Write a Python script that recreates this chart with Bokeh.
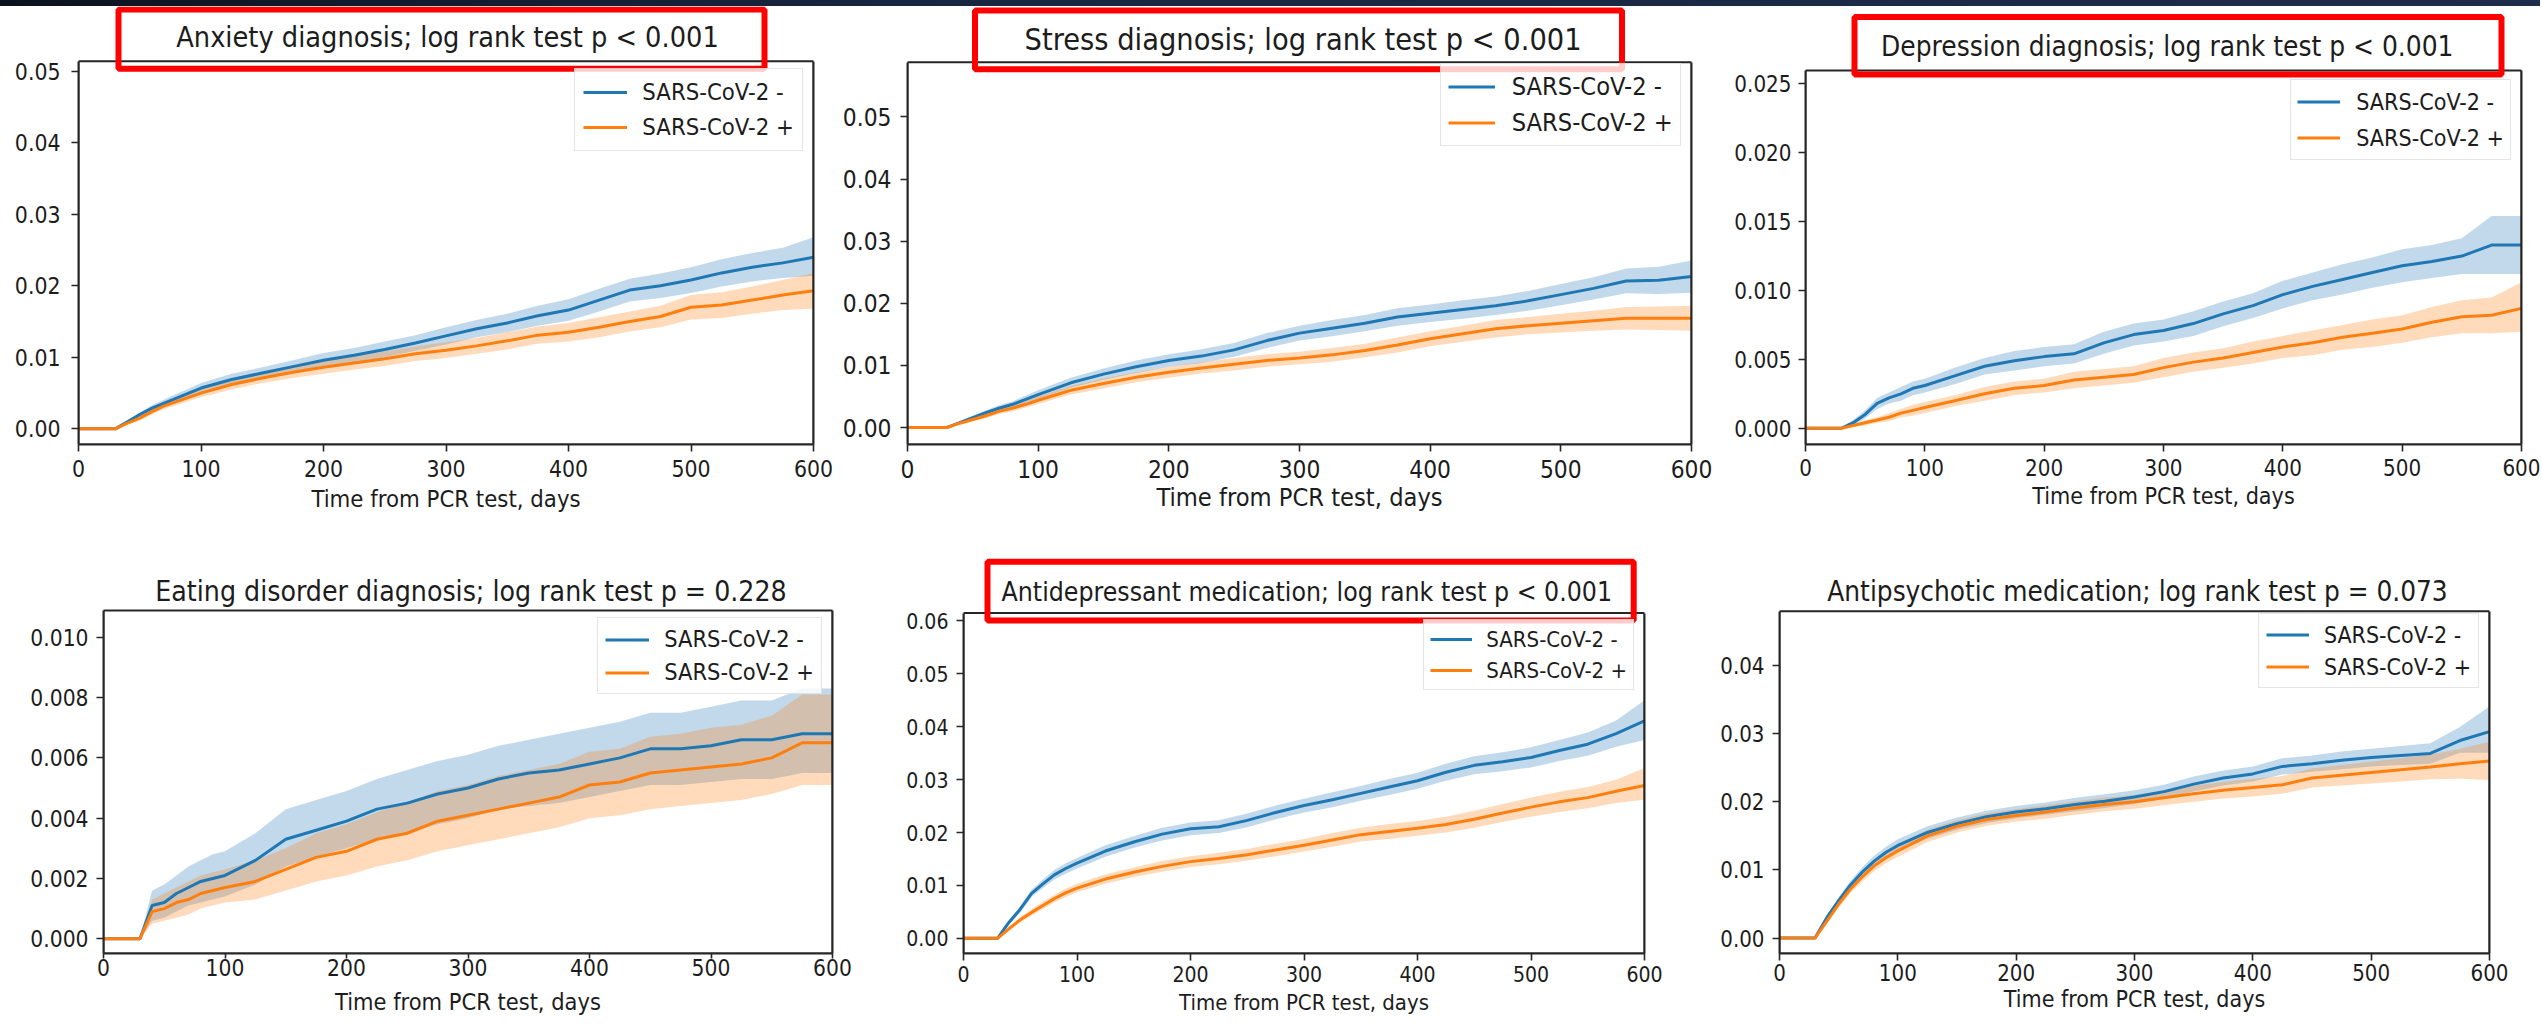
from bokeh.plotting import figure
from bokeh.models import (Range1d, FixedTicker, PrintfTickFormatter, Legend, LegendItem,
                          Label, BoxAnnotation, LinearAxis, ColumnDataSource, Div)
from bokeh.layouts import row, column
from bokeh.embed import file_html
from bokeh.resources import INLINE

# ---------------- data ----------------
days = [0, 30, 40, 50, 60, 70, 80, 90, 100, 125, 150, 175, 200, 225, 250, 275, 300,
        325, 350, 375, 400, 425, 450, 475, 500, 525, 550, 575, 600]
x_ticks = [0, 100, 200, 300, 400, 500, 600]
group_labels = ["SARS-CoV-2 -", "SARS-CoV-2 +"]
x_label = "Time from PCR test, days"

titles = [
    "Anxiety diagnosis; log rank test p < 0.001",
    "Stress diagnosis; log rank test p < 0.001",
    "Depression diagnosis; log rank test p < 0.001",
    "Eating disorder diagnosis; log rank test p = 0.228",
    "Antidepressant medication; log rank test p < 0.001",
    "Antipsychotic medication; log rank test p = 0.073",
]

# Anxiety
anx_neg = [0, 0, 0.0010, 0.0020, 0.0029, 0.0036, 0.0043, 0.0050, 0.0057, 0.0069, 0.0078, 0.0087, 0.0096, 0.0103, 0.0111, 0.0120, 0.0130, 0.0140, 0.0148, 0.0158, 0.0166, 0.0180, 0.0194, 0.0200, 0.0208, 0.0218, 0.0226, 0.0232, 0.0240]
anx_neg_lo = [0, 0, 0.0008, 0.0017, 0.0025, 0.0031, 0.0037, 0.0044, 0.0050, 0.0061, 0.0070, 0.0078, 0.0086, 0.0093, 0.0100, 0.0109, 0.0118, 0.0128, 0.0135, 0.0144, 0.0151, 0.0164, 0.0178, 0.0183, 0.0190, 0.0199, 0.0206, 0.0211, 0.0214]
anx_neg_hi = [0, 0, 0.0012, 0.0023, 0.0033, 0.0041, 0.0049, 0.0056, 0.0064, 0.0077, 0.0086, 0.0096, 0.0106, 0.0113, 0.0122, 0.0131, 0.0142, 0.0152, 0.0161, 0.0172, 0.0181, 0.0196, 0.0210, 0.0217, 0.0226, 0.0237, 0.0246, 0.0253, 0.0268]
anx_pos = [0, 0, 0.0008, 0.0015, 0.0024, 0.0032, 0.0038, 0.0044, 0.0050, 0.0062, 0.0071, 0.0079, 0.0086, 0.0092, 0.0098, 0.0105, 0.0110, 0.0116, 0.0123, 0.0131, 0.0135, 0.0142, 0.0150, 0.0157, 0.0170, 0.0173, 0.0180, 0.0187, 0.0193]
anx_pos_lo = [0, 0, 0.0006, 0.0012, 0.0020, 0.0028, 0.0033, 0.0039, 0.0044, 0.0055, 0.0064, 0.0071, 0.0077, 0.0083, 0.0088, 0.0095, 0.0099, 0.0105, 0.0111, 0.0119, 0.0122, 0.0128, 0.0136, 0.0142, 0.0153, 0.0155, 0.0161, 0.0166, 0.0168]
anx_pos_hi = [0, 0, 0.0010, 0.0018, 0.0028, 0.0036, 0.0043, 0.0049, 0.0056, 0.0069, 0.0078, 0.0087, 0.0095, 0.0101, 0.0108, 0.0115, 0.0121, 0.0127, 0.0135, 0.0143, 0.0148, 0.0156, 0.0164, 0.0172, 0.0187, 0.0191, 0.0199, 0.0208, 0.0218]

# Stress
str_neg = [0, 0, 0.0008, 0.0016, 0.0024, 0.0031, 0.0037, 0.0045, 0.0053, 0.0072, 0.0086, 0.0098, 0.0108, 0.0115, 0.0125, 0.0140, 0.0152, 0.0160, 0.0168, 0.0178, 0.0184, 0.0190, 0.0196, 0.0204, 0.0214, 0.0224, 0.0236, 0.0237, 0.0243]
str_neg_lo = [0, 0, 0.0006, 0.0013, 0.0020, 0.0026, 0.0032, 0.0039, 0.0046, 0.0064, 0.0077, 0.0088, 0.0098, 0.0104, 0.0114, 0.0128, 0.0140, 0.0147, 0.0155, 0.0164, 0.0170, 0.0175, 0.0181, 0.0188, 0.0197, 0.0206, 0.0216, 0.0215, 0.0217]
str_neg_hi = [0, 0, 0.0010, 0.0019, 0.0028, 0.0036, 0.0042, 0.0051, 0.0060, 0.0080, 0.0095, 0.0108, 0.0118, 0.0126, 0.0136, 0.0152, 0.0164, 0.0173, 0.0181, 0.0192, 0.0198, 0.0205, 0.0211, 0.0220, 0.0231, 0.0242, 0.0256, 0.0259, 0.0269]
str_pos = [0, 0, 0.0007, 0.0013, 0.0019, 0.0026, 0.0031, 0.0037, 0.0044, 0.0060, 0.0071, 0.0081, 0.0089, 0.0096, 0.0102, 0.0108, 0.0112, 0.0117, 0.0124, 0.0133, 0.0143, 0.0151, 0.0159, 0.0164, 0.0168, 0.0172, 0.0176, 0.0176, 0.0176]
str_pos_lo = [0, 0, 0.0005, 0.0010, 0.0015, 0.0022, 0.0026, 0.0032, 0.0038, 0.0053, 0.0063, 0.0073, 0.0080, 0.0087, 0.0092, 0.0098, 0.0102, 0.0106, 0.0113, 0.0121, 0.0131, 0.0138, 0.0145, 0.0150, 0.0153, 0.0156, 0.0158, 0.0157, 0.0156]
str_pos_hi = [0, 0, 0.0009, 0.0016, 0.0023, 0.0030, 0.0036, 0.0042, 0.0050, 0.0067, 0.0079, 0.0089, 0.0098, 0.0105, 0.0112, 0.0118, 0.0122, 0.0128, 0.0135, 0.0145, 0.0155, 0.0164, 0.0173, 0.0178, 0.0183, 0.0188, 0.0194, 0.0195, 0.0196]

# Depression
dep_neg = [0, 0, 0.0004, 0.0010, 0.0018, 0.0022, 0.0025, 0.0029, 0.0031, 0.0038, 0.0045, 0.0049, 0.0052, 0.0054, 0.0062, 0.0068, 0.0071, 0.0076, 0.0083, 0.0089, 0.0097, 0.0103, 0.0108, 0.0113, 0.0118, 0.0121, 0.0125, 0.0133, 0.0133]
dep_neg_lo = [0, 0, 0.0002, 0.0007, 0.0014, 0.0018, 0.0020, 0.0024, 0.0026, 0.0032, 0.0039, 0.0042, 0.0045, 0.0047, 0.0054, 0.0060, 0.0063, 0.0067, 0.0074, 0.0080, 0.0087, 0.0093, 0.0097, 0.0102, 0.0106, 0.0109, 0.0112, 0.0112, 0.0112]
dep_neg_hi = [0, 0, 0.0006, 0.0013, 0.0022, 0.0026, 0.0030, 0.0034, 0.0036, 0.0044, 0.0051, 0.0056, 0.0059, 0.0061, 0.0070, 0.0076, 0.0079, 0.0085, 0.0092, 0.0098, 0.0107, 0.0113, 0.0119, 0.0124, 0.0130, 0.0133, 0.0138, 0.0154, 0.0154]
dep_pos = [0, 0, 0.0002, 0.0004, 0.0006, 0.0008, 0.0011, 0.0013, 0.0015, 0.0020, 0.0025, 0.0029, 0.0031, 0.0035, 0.0037, 0.0039, 0.0044, 0.0048, 0.0051, 0.0055, 0.0059, 0.0062, 0.0066, 0.0069, 0.0072, 0.0077, 0.0081, 0.0082, 0.0087]
dep_pos_lo = [0, 0, 0.0001, 0.0002, 0.0004, 0.0005, 0.0008, 0.0009, 0.0011, 0.0016, 0.0020, 0.0024, 0.0026, 0.0029, 0.0031, 0.0033, 0.0037, 0.0041, 0.0044, 0.0047, 0.0051, 0.0053, 0.0057, 0.0059, 0.0062, 0.0066, 0.0069, 0.0069, 0.0070]
dep_pos_hi = [0, 0, 0.0003, 0.0006, 0.0008, 0.0011, 0.0014, 0.0017, 0.0019, 0.0024, 0.0030, 0.0034, 0.0036, 0.0041, 0.0043, 0.0045, 0.0051, 0.0055, 0.0058, 0.0063, 0.0067, 0.0071, 0.0075, 0.0079, 0.0082, 0.0088, 0.0093, 0.0095, 0.0106]

# Eating disorder
eat_neg = [0, 0, 0.0011, 0.0012, 0.0015, 0.0017, 0.0019, 0.0020, 0.0021, 0.0026, 0.0033, 0.0036, 0.0039, 0.0043, 0.0045, 0.0048, 0.0050, 0.0053, 0.0055, 0.0056, 0.0058, 0.0060, 0.0063, 0.0063, 0.0064, 0.0066, 0.0066, 0.0068, 0.0068]
eat_neg_lo = [0, 0, 0.0006, 0.0007, 0.0009, 0.0011, 0.0012, 0.0013, 0.0014, 0.0018, 0.0024, 0.0027, 0.0030, 0.0033, 0.0035, 0.0038, 0.0040, 0.0043, 0.0044, 0.0045, 0.0047, 0.0049, 0.0051, 0.0051, 0.0052, 0.0053, 0.0053, 0.0055, 0.0055]
eat_neg_hi = [0, 0, 0.0016, 0.0018, 0.0021, 0.0024, 0.0026, 0.0028, 0.0029, 0.0035, 0.0043, 0.0046, 0.0049, 0.0053, 0.0056, 0.0059, 0.0061, 0.0064, 0.0066, 0.0068, 0.0070, 0.0072, 0.0075, 0.0075, 0.0077, 0.0079, 0.0079, 0.0083, 0.0083]
eat_pos = [0, 0, 0.0009, 0.0010, 0.0012, 0.0013, 0.0015, 0.0016, 0.0017, 0.0019, 0.0023, 0.0027, 0.0029, 0.0033, 0.0035, 0.0039, 0.0041, 0.0043, 0.0045, 0.0047, 0.0051, 0.0052, 0.0055, 0.0056, 0.0057, 0.0058, 0.0060, 0.0065, 0.0065]
eat_pos_lo = [0, 0, 0.0005, 0.0006, 0.0007, 0.0008, 0.0010, 0.0011, 0.0012, 0.0013, 0.0016, 0.0019, 0.0021, 0.0024, 0.0026, 0.0029, 0.0031, 0.0033, 0.0035, 0.0037, 0.0040, 0.0041, 0.0043, 0.0044, 0.0045, 0.0046, 0.0048, 0.0051, 0.0051]
eat_pos_hi = [0, 0, 0.0013, 0.0015, 0.0017, 0.0019, 0.0021, 0.0022, 0.0023, 0.0026, 0.0030, 0.0035, 0.0038, 0.0042, 0.0045, 0.0049, 0.0051, 0.0054, 0.0056, 0.0058, 0.0062, 0.0063, 0.0067, 0.0068, 0.0070, 0.0071, 0.0074, 0.0081, 0.0081]

# Antidepressant medication
adm_neg = [0, 0, 0.0030, 0.0055, 0.0085, 0.0103, 0.0120, 0.0132, 0.0142, 0.0165, 0.0182, 0.0197, 0.0207, 0.0211, 0.0223, 0.0238, 0.0251, 0.0262, 0.0274, 0.0286, 0.0298, 0.0314, 0.0327, 0.0334, 0.0342, 0.0355, 0.0367, 0.0387, 0.0411]
adm_neg_lo = [0, 0, 0.0026, 0.0049, 0.0078, 0.0095, 0.0111, 0.0122, 0.0132, 0.0154, 0.0171, 0.0185, 0.0195, 0.0199, 0.0210, 0.0225, 0.0238, 0.0248, 0.0260, 0.0271, 0.0283, 0.0298, 0.0310, 0.0316, 0.0323, 0.0335, 0.0345, 0.0362, 0.0375]
adm_neg_hi = [0, 0, 0.0034, 0.0061, 0.0092, 0.0111, 0.0129, 0.0142, 0.0152, 0.0176, 0.0193, 0.0209, 0.0219, 0.0223, 0.0236, 0.0251, 0.0264, 0.0276, 0.0288, 0.0301, 0.0313, 0.0330, 0.0344, 0.0352, 0.0361, 0.0375, 0.0389, 0.0412, 0.0450]
adm_pos = [0, 0, 0.0018, 0.0035, 0.0049, 0.0062, 0.0075, 0.0086, 0.0095, 0.0112, 0.0125, 0.0136, 0.0145, 0.0151, 0.0158, 0.0167, 0.0176, 0.0186, 0.0196, 0.0202, 0.0208, 0.0215, 0.0225, 0.0237, 0.0248, 0.0258, 0.0266, 0.0278, 0.0289]
adm_pos_lo = [0, 0, 0.0015, 0.0030, 0.0043, 0.0055, 0.0068, 0.0078, 0.0087, 0.0103, 0.0116, 0.0126, 0.0135, 0.0140, 0.0147, 0.0155, 0.0164, 0.0173, 0.0183, 0.0188, 0.0194, 0.0200, 0.0209, 0.0220, 0.0230, 0.0239, 0.0246, 0.0256, 0.0262]
adm_pos_hi = [0, 0, 0.0021, 0.0040, 0.0055, 0.0069, 0.0082, 0.0094, 0.0103, 0.0121, 0.0134, 0.0146, 0.0155, 0.0162, 0.0169, 0.0179, 0.0188, 0.0199, 0.0209, 0.0216, 0.0222, 0.0230, 0.0241, 0.0254, 0.0266, 0.0277, 0.0286, 0.0300, 0.0322]

# Antipsychotic medication
apm_neg = [0, 0, 0.0030, 0.0055, 0.0078, 0.0097, 0.0113, 0.0126, 0.0136, 0.0155, 0.0168, 0.0178, 0.0185, 0.0190, 0.0196, 0.0201, 0.0207, 0.0215, 0.0226, 0.0235, 0.0241, 0.0252, 0.0256, 0.0261, 0.0265, 0.0268, 0.0271, 0.0290, 0.0303]
apm_neg_lo = [0, 0, 0.0026, 0.0050, 0.0072, 0.0090, 0.0105, 0.0118, 0.0127, 0.0146, 0.0159, 0.0169, 0.0176, 0.0181, 0.0186, 0.0191, 0.0197, 0.0205, 0.0215, 0.0224, 0.0230, 0.0240, 0.0244, 0.0248, 0.0252, 0.0254, 0.0256, 0.0272, 0.0272]
apm_neg_hi = [0, 0, 0.0034, 0.0060, 0.0084, 0.0104, 0.0121, 0.0134, 0.0145, 0.0164, 0.0177, 0.0187, 0.0194, 0.0199, 0.0206, 0.0211, 0.0217, 0.0225, 0.0237, 0.0246, 0.0252, 0.0264, 0.0268, 0.0274, 0.0278, 0.0282, 0.0286, 0.0310, 0.0340]
apm_pos = [0, 0, 0.0025, 0.0050, 0.0072, 0.0090, 0.0106, 0.0118, 0.0128, 0.0150, 0.0164, 0.0174, 0.0180, 0.0185, 0.0191, 0.0196, 0.0200, 0.0206, 0.0212, 0.0217, 0.0221, 0.0225, 0.0235, 0.0239, 0.0243, 0.0247, 0.0251, 0.0256, 0.0260]
apm_pos_lo = [0, 0, 0.0021, 0.0045, 0.0066, 0.0083, 0.0098, 0.0110, 0.0119, 0.0141, 0.0155, 0.0165, 0.0171, 0.0175, 0.0181, 0.0186, 0.0190, 0.0195, 0.0200, 0.0205, 0.0208, 0.0212, 0.0221, 0.0224, 0.0227, 0.0230, 0.0233, 0.0234, 0.0232]
apm_pos_hi = [0, 0, 0.0029, 0.0055, 0.0078, 0.0097, 0.0114, 0.0126, 0.0137, 0.0159, 0.0173, 0.0183, 0.0189, 0.0195, 0.0201, 0.0206, 0.0210, 0.0217, 0.0224, 0.0229, 0.0234, 0.0238, 0.0249, 0.0254, 0.0259, 0.0264, 0.0269, 0.0278, 0.0288]

y_ticks_a = [0, 0.01, 0.02, 0.03, 0.04, 0.05]
y_ticks_c = [0, 0.005, 0.01, 0.015, 0.02, 0.025]
y_ticks_d = [0, 0.002, 0.004, 0.006, 0.008, 0.01]
y_ticks_e = [0, 0.01, 0.02, 0.03, 0.04, 0.05, 0.06]
y_ticks_f = [0, 0.01, 0.02, 0.03, 0.04]

# ---------------- styles ----------------
BLUE = "#1f77b4"
ORANGE = "#ff7f0e"
FONT = "'DejaVu Sans Condensed', 'DejaVu Sans'"
INK = "#1c1c1c"
SPINE = "#262626"
BAND_ALPHA = 0.28

# bt = top of the drawn axes box inside the canvas; title = text centre (canvas px);
# box = red frame (left, right, top, bottom) in canvas px, stroke centre
styles = [
    dict(w=839, h=542, bl=78, br=26, bt=55, bb=102, yr=(-0.00219, 0.05139), fmt="%.2f",
         ft=28.6, fk=22.8, fl=23.7, yso=11, xto=7, xs=8, als=5, lh=30, lp=8, gw=44, lso=15,
         title=(447, 30.8), box=(118, 764, 3, 62.3)),
    dict(w=888, h=542, bl=68, br=36, bt=57, bb=95, yr=(-0.00273, 0.05879), fmt="%.2f",
         ft=30.4, fk=24.3, fl=25.2, yso=9, xto=7, xs=8, als=2, lh=31, lp=7, gw=47, lso=17,
         title=(463.6, 32.5), box=(135.5, 782.5, 4, 62.8)),
    dict(w=813, h=542, bl=78, br=19, bt=64, bb=104, yr=(-0.00118, 0.02597), fmt="%.3f",
         ft=27.8, fk=22.2, fl=23.1, yso=7, xto=7, xs=7, als=4, lh=31, lp=6, gw=43, lso=16,
         title=(439.8, 40), box=(127, 774, 10.5, 68)),
    dict(w=893, h=478, bl=103, br=61, bt=62, bb=73, yr=(-0.00049, 0.01089), fmt="%.3f",
         ft=28.2, fk=22.6, fl=23.4, yso=8, xto=5, xs=0, als=9, lh=27, lp=7, gw=44, lso=15,
         title=(470.5, 43.3), box=None),
    dict(w=820, h=478, bl=70, br=69, bt=65, bb=70, yr=(-0.00287, 0.0615), fmt="%.2f",
         ft=26.4, fk=21.1, fl=22.0, yso=8, xto=7, xs=5, als=5, lh=26, lp=6, gw=42, lso=14,
         title=(413.3, 42.7), box=(94, 740.2, 13.2, 72)),
    dict(w=827, h=478, bl=66, br=51, bt=64, bb=65, yr=(-0.00226, 0.04797), fmt="%.2f",
         ft=27.7, fk=22.1, fl=23.0, yso=8, xto=7, xs=3, als=2, lh=27, lp=7, gw=43, lso=15,
         title=(424, 43.3), box=None),
]


def make_panel(title, y_ticks, neg, neg_lo, neg_hi, pos, pos_lo, pos_hi, st):
    lo, hi = st["yr"]
    box_h = st["h"] - st["bb"] - st["bt"]          # height of the drawn axes box
    top = hi + st["bt"] * (hi - lo) / box_h          # range extended up to the canvas top
    p = figure(width=st["w"], height=st["h"], output_backend="svg", toolbar_location=None,
               x_range=Range1d(0, 600), y_range=Range1d(lo, top),
               min_border_left=st["bl"], min_border_right=st["br"],
               min_border_top=0, min_border_bottom=st["bb"])
    p.background_fill_color = "white"
    p.border_fill_color = "white"
    p.outline_line_color = None
    p.xgrid.visible = False
    p.ygrid.visible = False

    src = ColumnDataSource(dict(d=days, neg=neg, neg_lo=neg_lo, neg_hi=neg_hi,
                                pos=pos, pos_lo=pos_lo, pos_hi=pos_hi))
    p.varea(x="d", y1="neg_lo", y2="neg_hi", source=src, fill_color=BLUE, fill_alpha=BAND_ALPHA)
    p.varea(x="d", y1="pos_lo", y2="pos_hi", source=src, fill_color=ORANGE, fill_alpha=BAND_ALPHA)
    l1 = p.line("d", "neg", source=src, line_color=BLUE, line_width=3)
    l2 = p.line("d", "pos", source=src, line_color=ORANGE, line_width=3)

    xa = p.xaxis[0]
    xa.ticker = FixedTicker(ticks=x_ticks)
    xa.axis_label = x_label
    ya = p.yaxis[0]
    ya.ticker = FixedTicker(ticks=y_ticks)
    ya.formatter = PrintfTickFormatter(format=st["fmt"])
    ya.bounds = (lo, hi)
    for ax in (xa, ya):
        ax.minor_tick_line_color = None
        ax.major_tick_in = 0
        ax.axis_line_color = SPINE
        ax.axis_line_width = 2
        ax.major_tick_line_color = SPINE
        ax.major_tick_line_width = 1.6
        ax.major_label_text_font = FONT
        ax.major_label_text_font_size = f"{st['fk']}px"
        ax.major_label_text_color = INK
    ya.major_tick_out = 7
    ya.major_label_standoff = st["yso"]
    xa.major_tick_out = st["xto"]
    xa.major_label_standoff = st["xs"]
    xa.axis_label_text_font = FONT
    xa.axis_label_text_font_style = "normal"
    xa.axis_label_text_font_size = f"{st['fl']}px"
    xa.axis_label_text_color = INK
    xa.axis_label_standoff = st["als"]

    # right spine
    p.add_layout(LinearAxis(ticker=FixedTicker(ticks=[]), bounds=(lo, hi),
                            axis_line_color=SPINE, axis_line_width=2,
                            major_tick_line_color=None, minor_tick_line_color=None), "right")
    # top spine (box of the axes)
    p.add_layout(BoxAnnotation(left=0, right=600, bottom=lo, top=hi, fill_color=None,
                               fill_alpha=0, line_color=SPINE, line_alpha=1, line_width=2,
                               level="overlay"))

    # legend in the upper right corner of the axes box
    fw = st["w"] - st["bl"] - st["br"]
    fh = st["h"] - st["bb"]
    leg_w = 2 * st["lp"] + st["gw"] + st["lso"] + 6.44 * st["fl"]
    leg_h = 2 * st["lp"] + 2 * st["lh"] + 5
    loc = (fw - 11 - leg_w, fh - st["bt"] - 11 - leg_h)
    leg = Legend(items=[LegendItem(label=group_labels[0], renderers=[l1]),
                        LegendItem(label=group_labels[1], renderers=[l2])],
                 location=loc, margin=0, padding=st["lp"], spacing=5,
                 glyph_width=st["gw"], glyph_height=st["lh"], label_height=st["lh"],
                 label_standoff=st["lso"], label_text_font=FONT,
                 label_text_font_size=f"{st['fl']}px", label_text_color=INK,
                 border_line_color="#cccccc", border_line_width=1.5,
                 background_fill_color="white", background_fill_alpha=0.8)
    p.add_layout(leg)

    tx, ty = st["title"]
    p.add_layout(Label(x=tx, y=ty, x_units="canvas", y_units="canvas", text=title,
                       text_align="center", text_baseline="middle",
                       text_font=FONT, text_font_size=f"{st['ft']}px", text_color=INK))
    if st["box"] is not None:
        l, r, t, b = st["box"]
        p.add_layout(BoxAnnotation(left=l, right=r, top=t, bottom=b,
                                   left_units="canvas", right_units="canvas",
                                   top_units="canvas", bottom_units="canvas",
                                   fill_color=None, fill_alpha=0, line_color="#ff0000",
                                   line_alpha=1, line_width=6, level="overlay"))
    return p


panels = [
    make_panel(titles[0], y_ticks_a, anx_neg, anx_neg_lo, anx_neg_hi, anx_pos, anx_pos_lo, anx_pos_hi, styles[0]),
    make_panel(titles[1], y_ticks_a, str_neg, str_neg_lo, str_neg_hi, str_pos, str_pos_lo, str_pos_hi, styles[1]),
    make_panel(titles[2], y_ticks_c, dep_neg, dep_neg_lo, dep_neg_hi, dep_pos, dep_pos_lo, dep_pos_hi, styles[2]),
    make_panel(titles[3], y_ticks_d, eat_neg, eat_neg_lo, eat_neg_hi, eat_pos, eat_pos_lo, eat_pos_hi, styles[3]),
    make_panel(titles[4], y_ticks_e, adm_neg, adm_neg_lo, adm_neg_hi, adm_pos, adm_pos_lo, adm_pos_hi, styles[4]),
    make_panel(titles[5], y_ticks_f, apm_neg, apm_neg_lo, apm_neg_hi, apm_pos, apm_pos_lo, apm_pos_hi, styles[5]),
]

# dark slide band along the top edge
header = Div(text="", width=2540, height=6, margin=0,
             styles={"background": "linear-gradient(90deg, #0c121e 0%, #182540 35%, #1d2d4b 100%)",
                     "overflow": "hidden", "padding": "0px"})
layout = column(header,
                row(panels[0], panels[1], panels[2]),
                row(panels[3], panels[4], panels[5]))

open("out.html", "w").write(file_html(layout, INLINE, title="Kaplan-Meier curves"))
